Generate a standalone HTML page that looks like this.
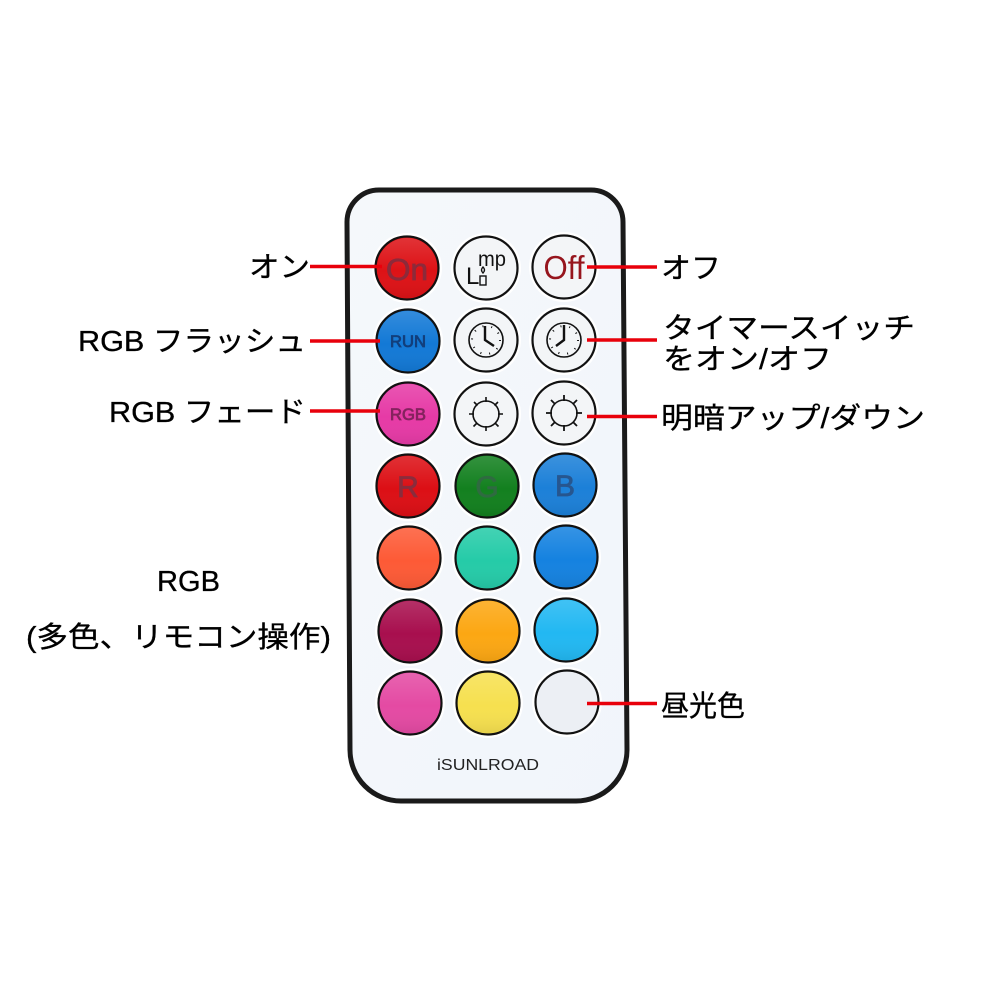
<!DOCTYPE html>
<html lang="ja"><head><meta charset="utf-8"><style>
html,body{margin:0;padding:0;background:#fff}
svg{display:block}
text{font-family:"Liberation Sans","Noto Sans CJK JP",sans-serif;fill:#000}
.l{font-size:29px;stroke:#000;stroke-width:.3px}
.b{font-family:"Liberation Sans",sans-serif;font-weight:400;text-anchor:middle}
.d{stroke-width:.8px}
</style></head><body>
<svg width="1000" height="1000" viewBox="0 0 1000 1000" xmlns="http://www.w3.org/2000/svg">
<defs>
<linearGradient id="bg" x1="0" y1="0" x2="1" y2="1"><stop offset="0" stop-color="#f5f8fb"/><stop offset="1" stop-color="#f1f5fb"/></linearGradient>
<linearGradient id="sh" x1="0" y1="0" x2="0" y2="1"><stop offset="0" stop-color="#fff" stop-opacity=".14"/><stop offset=".55" stop-color="#fff" stop-opacity="0"/><stop offset="1" stop-color="#000" stop-opacity=".07"/></linearGradient>
</defs>
<rect width="1000" height="1000" fill="#fff"/>
<path d="M379 190 H591 A32 32 0 0 1 623 222 L627 750 A51 51 0 0 1 576 801 H401 A51 51 0 0 1 350 750 L347 222 A32 32 0 0 1 379 190 Z" fill="url(#bg)" stroke="#1a1a1a" stroke-width="5"/>

<g fill="#fff">
<circle cx="407" cy="268" r="35"/><circle cx="486" cy="268" r="35"/><circle cx="564" cy="267" r="35"/>
<circle cx="408" cy="341" r="35"/><circle cx="486" cy="340" r="35"/><circle cx="564" cy="340" r="35"/>
<circle cx="408" cy="414" r="35"/><circle cx="486" cy="414" r="35"/><circle cx="564" cy="413" r="35"/>
<circle cx="408" cy="486" r="35"/><circle cx="487" cy="486" r="35"/><circle cx="565" cy="485" r="35"/>
<circle cx="409" cy="558" r="35"/><circle cx="487" cy="558" r="35"/><circle cx="566" cy="557" r="35"/>
<circle cx="410" cy="631" r="35"/><circle cx="488" cy="631" r="35"/><circle cx="566" cy="630" r="35"/>
<circle cx="410" cy="703" r="35"/><circle cx="488" cy="703" r="35"/><circle cx="567" cy="702" r="35"/>
</g>

<g stroke="#111" stroke-width="2.2">
<circle cx="407" cy="268" r="31.5" fill="#dd1216"/>
<circle cx="486" cy="268" r="31.5" fill="#f3f5f7"/>
<circle cx="564" cy="267" r="31.5" fill="#f3f5f7"/>
<circle cx="408" cy="341" r="31.5" fill="#1379d6"/>
<circle cx="486" cy="340" r="31.5" fill="#f3f5f7"/>
<circle cx="564" cy="340" r="31.5" fill="#f3f5f7"/>
<circle cx="408" cy="414" r="31.5" fill="#e63aa6"/>
<circle cx="486" cy="414" r="31.5" fill="#f3f5f7"/>
<circle cx="564" cy="413" r="31.5" fill="#f3f5f7"/>
<circle cx="408" cy="486" r="31.5" fill="#dc0f15"/>
<circle cx="487" cy="486" r="31.5" fill="#13801f"/>
<circle cx="565" cy="485" r="31.5" fill="#1c80d8"/>
<circle cx="409" cy="558" r="31.5" fill="#fd5a36"/>
<circle cx="487" cy="558" r="31.5" fill="#25cba8"/>
<circle cx="566" cy="557" r="31.5" fill="#1582e0"/>
<circle cx="410" cy="631" r="31.5" fill="#a80f4e"/>
<circle cx="488" cy="631" r="31.5" fill="#fca713"/>
<circle cx="566" cy="630" r="31.5" fill="#22b8f2"/>
<circle cx="410" cy="703" r="31.5" fill="#e44aa3"/>
<circle cx="488" cy="703" r="31.5" fill="#f6e04f"/>
<circle cx="567" cy="702" r="31.5" fill="#eceff4"/>
</g>
<g fill="url(#sh)">
<circle cx="407" cy="268" r="30"/><circle cx="408" cy="341" r="30"/><circle cx="408" cy="414" r="30"/>
<circle cx="408" cy="486" r="30"/><circle cx="487" cy="486" r="30"/><circle cx="565" cy="485" r="30"/>
<circle cx="409" cy="558" r="30"/><circle cx="487" cy="558" r="30"/><circle cx="566" cy="557" r="30"/>
<circle cx="410" cy="631" r="30"/><circle cx="488" cy="631" r="30"/><circle cx="566" cy="630" r="30"/>
<circle cx="410" cy="703" r="30"/><circle cx="488" cy="703" r="30"/>
</g>

<text class="b d" x="407" y="280" font-size="31" style="fill:#8c2a3a;stroke:#8c2a3a" textLength="42" lengthAdjust="spacingAndGlyphs">On</text>
<text class="b" x="564" y="279" font-size="33" style="fill:#96151d" textLength="41" lengthAdjust="spacingAndGlyphs">Off</text>
<text class="b d" x="408" y="347" font-size="17" style="fill:#123f7c;stroke:#123f7c" textLength="36" lengthAdjust="spacingAndGlyphs">RUN</text>
<text class="b d" x="408" y="420" font-size="17" style="fill:#85235f;stroke:#85235f" textLength="36" lengthAdjust="spacingAndGlyphs">RGB</text>
<text class="b d" x="408" y="497" font-size="30" style="fill:#8a2c3c;stroke:#8a2c3c">R</text>
<text class="b d" x="487" y="497" font-size="30" style="fill:#2f6b40;stroke:#2f6b40">G</text>
<text class="b d" x="565" y="496" font-size="30" style="fill:#27568f;stroke:#27568f">B</text>
<text x="466" y="284" font-size="24" style="fill:#111">L</text>
<text x="478" y="266" font-size="21" style="fill:#111" textLength="28" lengthAdjust="spacingAndGlyphs">mp</text>
<g fill="none" stroke="#111" stroke-width="1.4">
<rect x="480" y="276" width="6" height="9"/>
<path d="M483 267 q3 3 0 6 q-3 -3 0 -6Z"/>
</g>

<g fill="none" stroke="#111">
<g stroke-width="1.6">
<circle cx="486" cy="340" r="17"/>
<path d="M485 326 V340 L494 346" stroke-width="2.4"/>
<circle cx="564" cy="340" r="17"/>
<path d="M564 325 V340 L556 346" stroke-width="2.4"/>
<g stroke-width="2" stroke-dasharray="1 7.9">
<circle cx="486" cy="340" r="14"/>
<circle cx="564" cy="340" r="14"/>
</g>
</g>
<g stroke-width="1.6">
<circle cx="486" cy="414" r="13"/>
<path d="M486 397v5M486 426v5M469 414h5M498 414h5M474 402l3.500 3.500M495 423l3.500 3.500M498 402l-3.500 3.500M477 423l-3.500 3.500"/>
<circle cx="564" cy="413" r="13"/>
<path d="M564 395v6M564 425v6M546 413h6M576 413h6M551 400l4 4M573 422l4 4M577 400l-4 4M555 422l-4 4" stroke-width="1.800"/>
</g>
</g>

<text x="488" y="770" font-size="16" class="b" textLength="102" lengthAdjust="spacingAndGlyphs" style="fill:#222">iSUNLROAD</text>

<g stroke="#e8000b" stroke-width="3.500">
<path d="M310 266.500H382M587 267H657M310 341H380M587 340H657M310 411H380M587 416.500H657M587 703.500H657"/>
</g>

<text class="l" x="249" y="277" textLength="61" lengthAdjust="spacingAndGlyphs">オン</text>
<text class="l" x="78" y="351" textLength="228" lengthAdjust="spacingAndGlyphs">RGB フラッシュ</text>
<text class="l" x="109" y="422" textLength="197" lengthAdjust="spacingAndGlyphs">RGB フェード</text>
<text class="l" x="661" y="278" textLength="60" lengthAdjust="spacingAndGlyphs">オフ</text>
<text class="l" x="663" y="338" textLength="252" lengthAdjust="spacingAndGlyphs">タイマースイッチ</text>
<text class="l" x="663" y="369" textLength="169" lengthAdjust="spacingAndGlyphs">をオン/オフ</text>
<text class="l" x="661" y="428" textLength="264" lengthAdjust="spacingAndGlyphs">明暗アップ/ダウン</text>
<text class="l" x="661" y="716" textLength="84" lengthAdjust="spacingAndGlyphs">昼光色</text>
<text class="l" x="157" y="591" textLength="63" lengthAdjust="spacingAndGlyphs">RGB</text>
<text class="l" x="26" y="647" textLength="305" lengthAdjust="spacingAndGlyphs">(多色、リモコン操作)</text>
</svg>
</body></html>
